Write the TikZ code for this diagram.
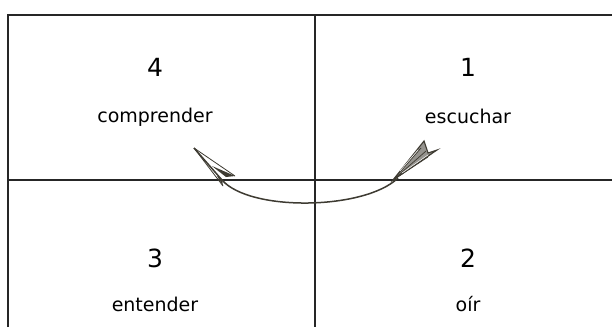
\documentclass[tikz,border=0pt]{standalone}
\usepackage{fontspec}
\setmainfont{DejaVu Sans}
\definecolor{arrowcol}{HTML}{3E3B32}
\begin{document}
\begin{tikzpicture}[x=1pt,y=-1pt,
  gridline/.style={line width=1.8pt,draw=black!85},
  numlabel/.style={anchor=base,font=\fontsize{25}{30}\selectfont,inner sep=0pt},
  wordlabel/.style={anchor=base,font=\fontsize{19}{22}\selectfont,inner sep=0pt},
  shaft/.style={draw=arrowcol,line width=1.5pt},
  feather/.style={draw=arrowcol,line width=0.7pt}]
\useasboundingbox (0,0) rectangle (612,327);
\fill[white] (0,0) rectangle (612,327);
% grid
\coordinate (tl) at (8,15);
\coordinate (tr) at (612,15);
\coordinate (bl) at (8,327);
\coordinate (mt) at (315,15);
\coordinate (mb) at (315,327);
\coordinate (ml) at (8,180);
\coordinate (mr) at (612,180);
\draw[gridline] (bl) -- (tl) -- (tr);
\draw[gridline] (mt) -- (mb);
\draw[gridline] (ml) -- (mr);
% labels
\node[numlabel] (n4) at (155,76) {4};
\node[wordlabel] (w4) at (155,122) {comprender};
\node[numlabel] (n1) at (468,76) {1};
\node[wordlabel] (w1) at (468,123) {escuchar};
\node[numlabel] (n3) at (155,267) {3};
\node[wordlabel] (w3) at (155,311) {entender};
\node[numlabel] (n2) at (468,267) {2};
\node[wordlabel] (w2) at (468,311) {oír};
% arrow
\coordinate (fb) at (398,178);
\coordinate (hb) at (222,180);
\coordinate (tip) at (194,148);
\coordinate (barbA) at (235,176);
\coordinate (barbB) at (223,186);
\draw[shaft] (fb) .. controls (365,210) and (250,212) .. (hb) -- (tip);
\draw[arrowcol,line width=0.8pt] (tip) -- (barbA);
\draw[arrowcol,line width=0.8pt] (tip) -- (barbB);
\fill[arrowcol] (212,166) -- (barbA) -- (226,177) -- cycle;
\fill[arrowcol] (217,176) -- (barbB) -- (222,179) -- cycle;
% fletching
\coordinate (fa) at (424,141);
\coordinate (fn) at (428,153);
\coordinate (fc) at (437,150);
\coordinate (fs) at (393,180);
\fill[arrowcol!55] (fs) -- (fa) -- (fn) -- (fc) -- cycle;
\draw[feather,line width=1.1pt] (fs) -- (fa) -- (fn) -- (fc) -- cycle;
\draw[feather] (fs) -- (421,148);
\draw[feather] (fs) -- (426,151);
\draw[feather] (fs) -- (431,154);
\draw[feather] (fs) -- (428,157);
\draw[feather,white,line width=0.5pt] (400,171) -- (418,150);
\draw[feather,white,line width=0.5pt] (402,173) -- (428,155);
\end{tikzpicture}
\end{document}
